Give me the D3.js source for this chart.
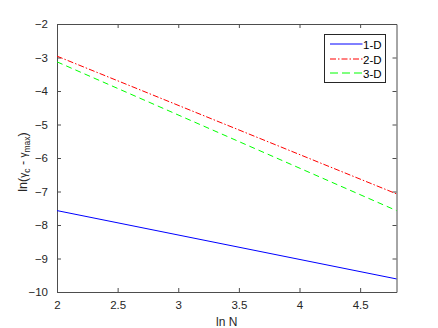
<!DOCTYPE html>
<html>
<head>
<meta charset="utf-8">
<script src="https://cdn.jsdelivr.net/npm/d3@7"></script>
<style>
  body { margin: 0; background: #fff; }
  svg { display: block; font-family: "Liberation Sans", Arial, sans-serif; }
  .axis path, .axis line { stroke: #4d4d4d; }
  .axis text { fill: #262626; font-size: 11.5px; }
</style>
</head>
<body>
<svg id="chart" width="438" height="328"></svg>
<script>
// Endpoints (straight lines on a log-log scale).
const lnN = [2, 4.8];
const series1D = [-7.57, -9.61];
const series2D = [-2.96, -7.07];
const series3D = [-3.13, -7.57];
const labels = ['1-D', '2-D', '3-D'];
const xTicks = [2, 2.5, 3, 3.5, 4, 4.5];
const yTicks = [-10, -9, -8, -7, -6, -5, -4, -3, -2];

const W = 438, H = 328;
const M = { top: 24, right: 41.5, bottom: 36, left: 57 };

const svg = d3.select('#chart');
const x = d3.scaleLinear().domain([2, 4.8]).range([M.left, W - M.right]);
const y = d3.scaleLinear().domain([-10, -2]).range([H - M.bottom, M.top]);

const tick = 4;
const fmt = d3.format('');

// Axes with inward ticks on all four sides (box).
svg.append('g').attr('class', 'axis')
  .attr('transform', `translate(0,${y(-10)})`)
  .call(d3.axisBottom(x).tickValues(xTicks).tickFormat(fmt).tickSizeInner(-tick).tickSizeOuter(0).tickPadding(9));
svg.append('g').attr('class', 'axis')
  .attr('transform', `translate(0,${y(-2)})`)
  .call(d3.axisTop(x).tickValues(xTicks).tickFormat('').tickSizeInner(-tick).tickSizeOuter(0));
svg.append('g').attr('class', 'axis')
  .attr('transform', `translate(${x(2)},0)`)
  .call(d3.axisLeft(y).tickValues(yTicks).tickFormat(fmt).tickSizeInner(-tick).tickSizeOuter(0).tickPadding(9));
svg.append('g').attr('class', 'axis')
  .attr('transform', `translate(${x(4.8)},0)`)
  .call(d3.axisRight(y).tickValues(yTicks).tickFormat('').tickSizeInner(-tick).tickSizeOuter(0));

svg.selectAll('.axis .domain').attr('stroke-width', 1);

// Data lines
const lines = [
  { vals: series1D, color: '#0000ff', dash: null },
  { vals: series2D, color: '#ff0000', dash: '6,2,1.5,2' },
  { vals: series3D, color: '#00ff00', dash: '6,4' },
];
const line = d3.line().x((d) => x(d[0])).y((d) => y(d[1]));
lines.forEach((s) => {
  svg.append('path')
    .datum(lnN.map((n, i) => [n, s.vals[i]]))
    .attr('d', line)
    .attr('fill', 'none')
    .attr('stroke', s.color)
    .attr('stroke-width', 1)
    .attr('stroke-dasharray', s.dash);
});

// Legend
const lg = svg.append('g').attr('transform', 'translate(324.5,34.5)');
lg.append('rect').attr('width', 61).attr('height', 48)
  .attr('fill', '#fff').attr('stroke', '#262626').attr('stroke-width', 1);
lines.forEach((s, i) => {
  const yy = 9.5 + Math.round(i * 14.5) + 0.5;
  lg.append('line').attr('x1', 5.5).attr('x2', 38).attr('y1', yy - 0.5).attr('y2', yy - 0.5)
    .attr('stroke', s.color).attr('stroke-width', 1)
    .attr('stroke-dasharray', s.dash ? (i === 2 ? '8,4' : s.dash) : null);
  lg.append('text').attr('x', 38.5).attr('y', yy).attr('dy', '0.35em')
    .attr('font-size', 11.5).attr('fill', '#000').text(labels[i]);
});

// Axis labels
svg.append('text').attr('x', (x(2) + x(4.8)) / 2).attr('y', 326)
  .attr('text-anchor', 'middle').attr('font-size', 12).attr('fill', '#262626').text('ln N');

const yl = svg.append('text')
  .attr('transform', `translate(27,162) rotate(-90)`)
  .attr('text-anchor', 'middle').attr('font-size', 12.5).attr('fill', '#262626');
yl.append('tspan').text('ln(');
yl.append('tspan').attr('font-size', 10).text('γ');
yl.append('tspan').attr('font-size', 8.5).attr('dy', 3).text('c');
yl.append('tspan').attr('dy', -3).text(' - ');
yl.append('tspan').attr('font-size', 10).text('γ');
yl.append('tspan').attr('font-size', 8.5).attr('dy', 3).text('max');
yl.append('tspan').attr('dy', -3).text(')');
</script>
</body>
</html>
